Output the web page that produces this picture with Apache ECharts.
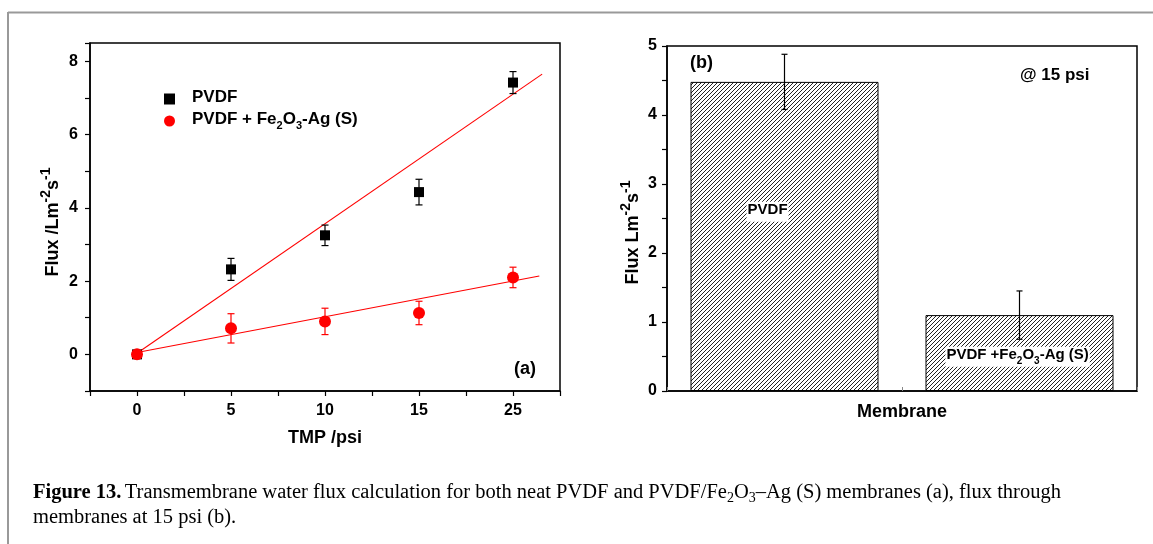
<!DOCTYPE html>
<html>
<head>
<meta charset="utf-8">
<script src="https://cdn.jsdelivr.net/npm/echarts@6/dist/echarts.min.js"></script>
<style>
  html, body { margin: 0; padding: 0; background: #fff; }
  #chart { width: 1153px; height: 544px; }
</style>
</head>
<body>
<div id="chart"></div>
<script>
// panel (a): flux vs TMP
const tmpLabels = ['0', '5', '10', '15', '25']
const pvdfFlux = [0, 2.32, 3.25, 4.43, 7.42]
const pvdfErr = [0, 0.3, 0.28, 0.35, 0.3]
const compFlux = [0, 0.71, 0.9, 1.13, 2.1]
const compErr = [0, 0.4, 0.36, 0.32, 0.28]
// linear fits, x in tick-index units
const fitPvdf = [[0, 0.03], [4.31, 7.65]]
const fitComp = [[0, 0.05], [4.28, 2.14]]

// panel (b): flux at 15 psi
const membranes = ['PVDF', 'PVDF +Fe2O3-Ag (S)']
const fluxAt15 = [4.48, 1.1]
const errAt15 = [0.4, 0.35]

const chart = echarts.init(document.getElementById('chart'))

// diagonal hatch pattern
const hatch = document.createElement('canvas')
hatch.width = 4
hatch.height = 4
const ctx = hatch.getContext('2d')
ctx.fillStyle = '#fff'
ctx.fillRect(0, 0, 4, 4)
ctx.strokeStyle = '#222'
ctx.lineWidth = 1
ctx.beginPath()
ctx.moveTo(-1, 5); ctx.lineTo(5, -1)
ctx.moveTo(-1, 1); ctx.lineTo(1, -1)
ctx.moveTo(3, 5); ctx.lineTo(5, 3)
ctx.stroke()

const FONT = 'Liberation Sans, Arial, sans-serif'
const SERIF = 'Liberation Serif, serif'
const richSup = {
  b: { fontFamily: FONT, fontWeight: 'bold', fontSize: 18, lineHeight: 23, verticalAlign: 'bottom', color: '#000' },
  sup: { fontFamily: FONT, fontWeight: 'bold', fontSize: 14, lineHeight: 13, verticalAlign: 'top', color: '#000' }
}

function errorSeries(name, xAxisIndex, yAxisIndex, values, errs, color, cap) {
  return {
    name: name,
    type: 'custom',
    xAxisIndex: xAxisIndex,
    yAxisIndex: yAxisIndex,
    z: 3,
    data: values.map((v, i) => [i, v, errs[i]]),
    renderItem: function(params, api) {
      const x = api.value(0)
      const y = api.value(1)
      const e = api.value(2)
      if (!e) return
      const top = api.coord([x, y + e])
      const bot = api.coord([x, y - e])
      const style = { stroke: color, lineWidth: 1.2 }
      return {
        type: 'group',
        children: [
          { type: 'line', shape: { x1: top[0], y1: top[1], x2: bot[0], y2: bot[1] }, style: style },
          { type: 'line', shape: { x1: top[0] - cap, y1: top[1], x2: top[0] + cap, y2: top[1] }, style: style },
          { type: 'line', shape: { x1: bot[0] - cap, y1: bot[1], x2: bot[0] + cap, y2: bot[1] }, style: style }
        ]
      }
    }
  }
}

const axisLine = { show: true, onZero: false, lineStyle: { color: '#000', width: 1.5 } }
const tickLabel = { color: '#000', fontFamily: FONT, fontWeight: 'bold', fontSize: 16 }
const nameStyle = { color: '#000', fontFamily: FONT, fontWeight: 'bold', fontSize: 18 }

const option = {
  animation: false,
  grid: [
    { left: 90, top: 43, width: 470, height: 348, show: true, borderColor: '#000', borderWidth: 1.5 },
    { left: 667, top: 46, width: 470, height: 345, show: true, borderColor: '#000', borderWidth: 1.5 }
  ],
  xAxis: [
    {
      gridIndex: 0,
      type: 'value',
      min: -0.5,
      max: 4.5,
      interval: 0.5,
      axisLine: axisLine,
      axisTick: { show: true, length: 5, lineStyle: { color: '#000', width: 1.2 } },
      axisLabel: Object.assign({}, tickLabel, {
        margin: 12,
        formatter: v => (Number.isInteger(v) && v >= 0 ? tmpLabels[v] : '')
      }),
      splitLine: { show: false },
      name: 'TMP /psi',
      nameLocation: 'middle',
      nameGap: 38,
      nameTextStyle: nameStyle
    },
    {
      gridIndex: 1,
      type: 'category',
      data: membranes,
      axisLine: axisLine,
      axisTick: { show: true, inside: true, length: 4, lineStyle: { color: '#888' } },
      axisLabel: { show: false },
      name: 'Membrane',
      nameLocation: 'middle',
      nameGap: 12,
      nameTextStyle: nameStyle
    }
  ],
  yAxis: [
    {
      gridIndex: 0,
      type: 'value',
      min: -1,
      max: 8.5,
      interval: 1,
      axisLine: axisLine,
      axisTick: { show: true, length: 5, lineStyle: { color: '#000', width: 1.2 } },
      axisLabel: Object.assign({}, tickLabel, {
        margin: 12,
        formatter: v => (v >= 0 && v % 2 === 0 ? String(v) : '')
      }),
      splitLine: { show: false },
      name: '{b|Flux /Lm}{sup|-2}{b|s}{sup|-1}',
      nameLocation: 'middle',
      nameGap: 28,
      nameTextStyle: { rich: richSup, padding: [0, 10, 0, 0] }
    },
    {
      gridIndex: 1,
      type: 'value',
      min: 0,
      max: 5,
      interval: 0.5,
      axisLine: axisLine,
      axisTick: { show: true, length: 5, lineStyle: { color: '#000', width: 1.2 } },
      axisLabel: Object.assign({}, tickLabel, {
        margin: 10,
        formatter: v => (Number.isInteger(v) ? String(v) : '')
      }),
      splitLine: { show: false },
      name: '{b|Flux Lm}{sup|-2}{b|s}{sup|-1}',
      nameLocation: 'middle',
      nameGap: 25,
      nameTextStyle: { rich: richSup, padding: [0, 28, 0, 0] }
    }
  ],
  legend: {
    orient: 'vertical',
    left: 159,
    top: 84,
    itemWidth: 11,
    itemHeight: 11,
    itemGap: 5,
    data: ['PVDF', 'PVDF + Fe2O3-Ag (S)'],
    formatter: function(name) {
      if (name === 'PVDF') return '{t|PVDF}'
      return '{t|PVDF + Fe}{s|2}{t|O}{s|3}{t|-Ag (S)}'
    },
    textStyle: {
      padding: [0, 0, 0, 12],
      rich: {
        t: { fontFamily: FONT, fontWeight: 'bold', fontSize: 17, lineHeight: 20, verticalAlign: 'top', color: '#000' },
        s: { fontFamily: FONT, fontWeight: 'bold', fontSize: 11, lineHeight: 11, verticalAlign: 'bottom', color: '#000' }
      }
    }
  },
  series: [
    {
      name: 'fitPvdf',
      type: 'line',
      xAxisIndex: 0,
      yAxisIndex: 0,
      data: fitPvdf,
      symbol: 'none',
      lineStyle: { color: '#f00', width: 1.1 },
      z: 2
    },
    {
      name: 'fitComp',
      type: 'line',
      xAxisIndex: 0,
      yAxisIndex: 0,
      data: fitComp,
      symbol: 'none',
      lineStyle: { color: '#f00', width: 1.1 },
      z: 2
    },
    errorSeries('errPvdf', 0, 0, pvdfFlux, pvdfErr, '#000', 3.5),
    errorSeries('errComp', 0, 0, compFlux, compErr, '#f00', 3.5),
    {
      name: 'PVDF',
      type: 'scatter',
      xAxisIndex: 0,
      yAxisIndex: 0,
      symbol: 'rect',
      symbolSize: 10,
      itemStyle: { color: '#000', opacity: 1 },
      data: pvdfFlux.map((v, i) => [i, v]),
      z: 4
    },
    {
      name: 'PVDF + Fe2O3-Ag (S)',
      type: 'scatter',
      xAxisIndex: 0,
      yAxisIndex: 0,
      symbol: 'circle',
      symbolSize: 12,
      itemStyle: { color: '#f00', opacity: 1 },
      data: compFlux.map((v, i) => [i, v]),
      z: 5
    },
    {
      name: 'bars',
      type: 'bar',
      xAxisIndex: 1,
      yAxisIndex: 1,
      barCategoryGap: '20%',
      itemStyle: {
        color: { image: hatch, repeat: 'repeat' },
        borderColor: '#000',
        borderWidth: 1
      },
      data: [
        {
          value: fluxAt15[0],
          label: { position: ['41%', '42%'] }
        },
        {
          value: fluxAt15[1],
          label: { position: ['49%', '55%'] }
        }
      ],
      label: {
        show: true,
        align: 'center',
        verticalAlign: 'middle',
        backgroundColor: '#fff',
        padding: [1, 1, 1, 1],
        formatter: function(p) {
          if (p.dataIndex === 0) return '{t|PVDF}'
          return '{t|PVDF +Fe}{s|2}{t|O}{s|3}{t|-Ag (S)}'
        },
        rich: {
          t: { fontFamily: FONT, fontWeight: 'bold', fontSize: 15, lineHeight: 18, verticalAlign: 'top', color: '#000' },
          s: { fontFamily: FONT, fontWeight: 'bold', fontSize: 10, lineHeight: 10, verticalAlign: 'bottom', color: '#000' }
        }
      },
      z: 2
    },
    errorSeries('errBars', 1, 1, fluxAt15, errAt15, '#000', 3)
  ],
  graphic: [
    { type: 'line', shape: { x1: 8, y1: 12.5, x2: 1153, y2: 12.5 }, style: { stroke: '#999', lineWidth: 2 } },
    { type: 'line', shape: { x1: 8, y1: 12, x2: 8, y2: 544 }, style: { stroke: '#999', lineWidth: 2 } },
    { type: 'text', left: 514, top: 360, style: { text: '(a)', font: 'bold 18px ' + FONT, fill: '#000' } },
    { type: 'text', left: 690, top: 54, style: { text: '(b)', font: 'bold 18px ' + FONT, fill: '#000' } },
    { type: 'text', left: 1020, top: 67, style: { text: '@ 15 psi', font: 'bold 17px ' + FONT, fill: '#000' } },
    {
      type: 'text',
      left: 33,
      top: 482,
      style: {
        text: '{b|Figure 13.} {n|Transmembrane water flux calculation for both neat PVDF and PVDF/Fe}{s|2}{n|O}{s|3}{n|–Ag (S) membranes (a), flux through}\n{n|membranes at 15 psi (b).}',
        rich: {
          b: { fontFamily: SERIF, fontWeight: 'bold', fontSize: 20.5, lineHeight: 25, fill: '#000', verticalAlign: 'middle' },
          n: { fontFamily: SERIF, fontSize: 20.5, lineHeight: 25, fill: '#000', verticalAlign: 'middle' },
          s: { fontFamily: SERIF, fontSize: 14, lineHeight: 14, fill: '#000', verticalAlign: 'bottom' }
        }
      }
    }
  ]
}

chart.setOption(option)
</script>
</body>
</html>
